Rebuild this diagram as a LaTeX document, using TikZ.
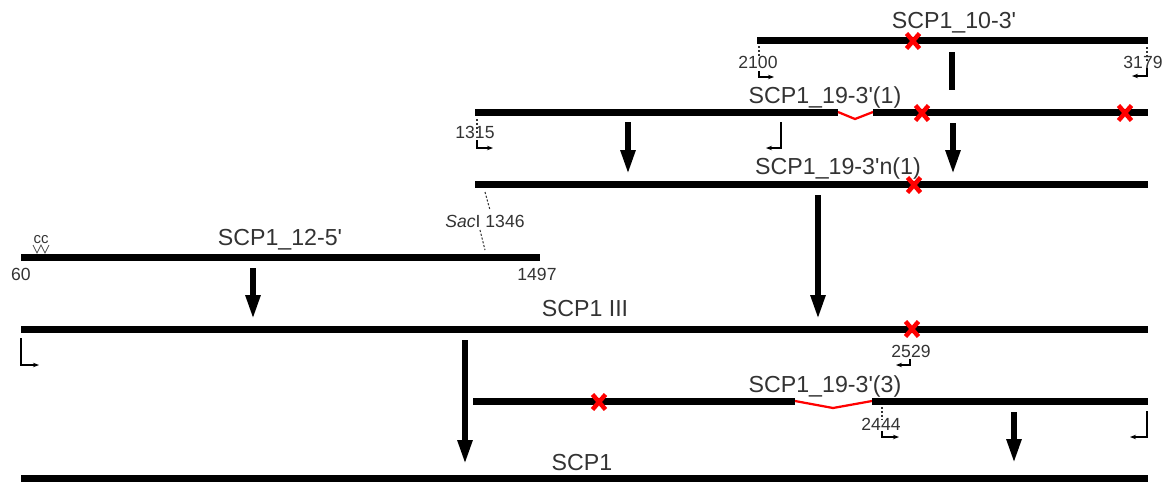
\documentclass[tikz,border=0pt]{standalone}
\usepackage{fontspec}
\setmainfont{Liberation Sans}[Ligatures=TeXOff]
\usetikzlibrary{arrows.meta}

\begin{document}
\begin{tikzpicture}[x=0.02cm,y=-0.02cm,
  dnabar/.style={line width=0.14cm},
  bigarrow/.style={line width=0.11cm,-{Triangle[width=0.28cm,length=0.48cm]}},
  splice/.style={red,line width=0.045cm},
  site/.style={dash pattern=on 1.2pt off 1pt,line width=0.6pt,black!80},
  tss/.style={line width=0.6pt,-{Stealth[length=0.12cm,width=0.09cm]}},
  big/.style={text=black!80,font=\fontsize{13.2}{15}\selectfont,anchor=base,inner sep=0pt},
  small/.style={text=black!80,font=\fontsize{10}{12}\selectfont,anchor=base,inner sep=0pt},
  mut/.pic={\draw[red,line width=0.09cm] (-6.5,-7.5) -- (6.5,7.5) (-6.5,7.5) -- (6.5,-7.5);}]
  \useasboundingbox (0,0) rectangle (1171,481);

  % SCP1_10-3'
  \draw[dnabar] (757,40) coordinate (a0) -- (1148,40) coordinate (a1);
  \node[big] (la) at (954,28) {SCP1\_10-3'};
  \node[small] (a0n) at (758,68) {2100};
  \node[small] (a1n) at (1143,68) {3179};
  \draw[site] (a0) ++(2,6) -- ++(0,10);
  \draw[site] (a1) ++(-1,7) -- ++(0,14);
  \draw[tss] (759,71) |- (774,77);
  \draw[tss] (1147,68) |- (1132,76);
  \draw[line width=0.11cm] (952,52) coordinate (b0) -- (952,90) coordinate (b1);

  % SCP1_19-3'(1)
  \draw[dnabar] (475,112) coordinate (c0) -- (838,112) coordinate (c1);
  \draw[splice] (c1) -- (855,119) -- (873,112) coordinate (c2);
  \draw[dnabar] (c2) -- (1148,112) coordinate (c3);
  \node[big] (lc) at (825,103) {SCP1\_19-3'(1)};
  \node[small] (c0n) at (475,138) {1315};
  \draw[site] (c0) ++(2,7) -- ++(0,14);
  \draw[tss] (477,140) |- (493,148);
  \draw[tss] (781,122) |- (766,148);
  \draw[bigarrow] (628,122) coordinate (d0) -- (628,174) coordinate (d1);
  \draw[bigarrow] (953,123) coordinate (e0) -- (953,174) coordinate (e1);

  % SCP1_19-3'n(1)
  \draw[dnabar] (475,184) coordinate (f0) -- (1148,184) coordinate (f1);
  \node[big] (lf) at (838,174) {SCP1\_19-3'n(1)};
  \draw[bigarrow] (818,195) coordinate (g0) -- (818,319) coordinate (g1);

  % SacI site
  \node[small] (sac) at (485,227) {\textit{Sac}I 1346};
  \draw[site] (485,192) -- (490,210);
  \draw[site] (480,230) -- (485,250);

  % SCP1_12-5'
  \draw[dnabar] (21,257) coordinate (h0) -- (540,257) coordinate (h1);
  \node[big] (lh) at (280,245) {SCP1\_12-5'};
  \node[small,font=\fontsize{8.5}{10}\selectfont] (cc) at (41,243) {cc};
  \draw[line width=0.4pt,black!70] (33,245) -- (37,253) -- (41,245) -- (45,253) -- (49,245);
  \node[small] (h0n) at (21,280) {60};
  \node[small] (h1n) at (537,280) {1497};
  \draw[bigarrow] (253,268) coordinate (i0) -- (253,319) coordinate (i1);

  % SCP1 III
  \draw[dnabar] (21,329) coordinate (j0) -- (1148,329) coordinate (j1);
  \node[big] (lj) at (585,316) {SCP1 III};
  \node[small] (jn) at (911,357) {2529};
  \draw[tss] (910,359) |- (896,365);
  \draw[tss] (21,338) |- (39,365);
  \draw[bigarrow] (465,340) coordinate (k0) -- (465,464) coordinate (k1);

  % SCP1_19-3'(3)
  \draw[dnabar] (473,401) coordinate (m0) -- (795,401) coordinate (m1);
  \draw[splice] (m1) -- (833,408) -- (872,401) coordinate (m2);
  \draw[dnabar] (m2) -- (1148,401) coordinate (m3);
  \node[big] (lm) at (825,392) {SCP1\_19-3'(3)};
  \node[small] (mn) at (881,430) {2444};
  \draw[site] (882,407) -- ++(0,12);
  \draw[tss] (882,431) |- (899,437);
  \draw[tss] (1147,411) |- (1130,437);
  \draw[bigarrow] (1014,412) coordinate (n0) -- (1014,463) coordinate (n1);

  % SCP1
  \draw[dnabar] (21,478) coordinate (p0) -- (1148,478) coordinate (p1);
  \node[big] (lp) at (582,470) {SCP1};

  % point mutations
  \pic at (913,41) {mut};
  \pic at (922,113) {mut};
  \pic at (1125,113) {mut};
  \pic at (914,185) {mut};
  \pic at (912,329) {mut};
  \pic at (599,402) {mut};
\end{tikzpicture}
\end{document}
